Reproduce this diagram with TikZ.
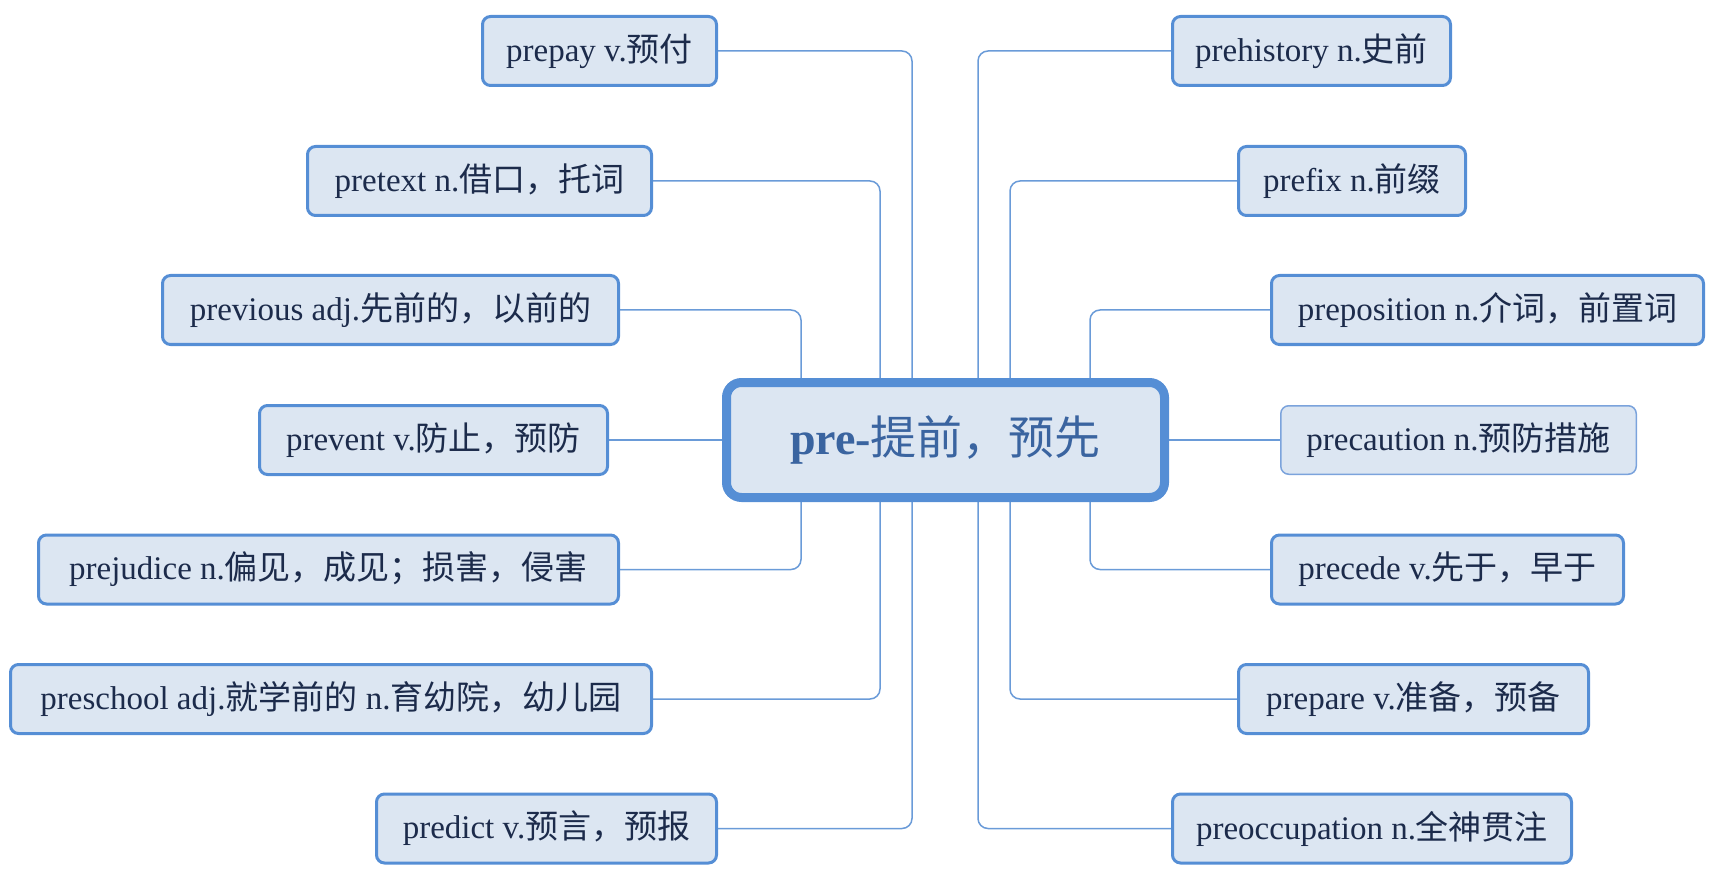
\documentclass[tikz,border=0pt]{standalone}
\usepackage{fontspec}
\setmainfont{Liberation Serif}
\newfontfamily\cjkf{Noto Sans CJK SC}
\newcommand\zhs[1]{{\cjkf #1}}
\usetikzlibrary{backgrounds}
\definecolor{boxfill}{HTML}{DCE6F2}
\definecolor{boxline}{HTML}{558ED5}
\definecolor{thinline}{HTML}{7BA3DC}
\definecolor{linkc}{HTML}{6A9BD8}
\definecolor{txt}{HTML}{1C2B4B}
\definecolor{ctxt}{HTML}{3A64A0}
\begin{document}
\begin{tikzpicture}[x=0.5pt,y=-0.5pt,
  word/.style={draw=boxline, line width=1.5pt, fill=boxfill, rounded corners=4pt,
    minimum height=34.5pt, inner sep=0pt, text=txt, font=\fontsize{16.5}{20}\selectfont},
  hub/.style={draw=boxline, line width=4.5pt, fill=boxfill, rounded corners=7.5pt,
    minimum width=219pt, minimum height=57.5pt, inner sep=0pt, text=ctxt,
    font=\fontsize{23}{28}\selectfont},
  link/.style={draw=linkc, line width=0.75pt, rounded corners=5pt}]
\useasboundingbox (0,0) rectangle (1719,877);

\node[hub] (c) at (945.5,440) {{\bfseries pre-}\zhs{提前，预先}};

% left column
\node[word, minimum width=117pt] (prepay) at (599.5,51) {prepay v.\zhs{预付}};
\node[word, minimum width=172pt] (pretext) at (479.5,181) {pretext n.\zhs{借口，托词}};
\node[word, minimum width=228pt] (previous) at (390.5,310) {previous adj.\zhs{先前的，以前的}};
\node[word, minimum width=174pt] (prevent) at (433.5,440) {prevent v.\zhs{防止，预防}};
\node[word, minimum width=290pt] (prejudice) at (328.5,569.5) {prejudice n.\zhs{偏见，成见；损害，侵害}};
\node[word, minimum width=320.5pt] (preschool) at (331,699) {preschool adj.\zhs{就学前的} n.\zhs{育幼院，幼儿园}};
\node[word, minimum width=170pt] (predict) at (546.5,828.5) {predict v.\zhs{预言，预报}};

% right column
\node[word, minimum width=139pt] (prehistory) at (1311.5,51) {prehistory n.\zhs{史前}};
\node[word, minimum width=113.5pt] (prefix) at (1352,181) {prefix n.\zhs{前缀}};
\node[word, minimum width=216pt] (preposition) at (1487.5,310) {preposition n.\zhs{介词，前置词}};
\node[word, draw=thinline, line width=0.75pt, minimum width=177.75pt, minimum height=34.25pt] (precaution) at (1458.5,440) {precaution n.\zhs{预防措施}};
\node[word, minimum width=176pt] (precede) at (1447.5,569.5) {precede v.\zhs{先于，早于}};
\node[word, minimum width=175pt] (prepare) at (1413.5,699) {prepare v.\zhs{准备，预备}};
\node[word, minimum width=199.5pt] (preoccupation) at (1372,828.5) {preoccupation n.\zhs{全神贯注}};

% trunk positions
\coordinate (xL1) at (912,0);
\coordinate (xL2) at (880,0);
\coordinate (xL3) at (801,0);
\coordinate (xR1) at (978,0);
\coordinate (xR2) at (1010,0);
\coordinate (xR3) at (1090,0);

\begin{scope}[on background layer]
\draw[link] (prepay.east) -| (xL1 |- c.north);
\draw[link] (pretext.east) -| (xL2 |- c.north);
\draw[link] (previous.east) -| (xL3 |- c.north);
\draw[link] (prevent.east) -- (c.west |- prevent.east);
\draw[link] (prejudice.east) -| (xL3 |- c.south);
\draw[link] (preschool.east) -| (xL2 |- c.south);
\draw[link] (predict.east) -| (xL1 |- c.south);
\draw[link] (prehistory.west) -| (xR1 |- c.north);
\draw[link] (prefix.west) -| (xR2 |- c.north);
\draw[link] (preposition.west) -| (xR3 |- c.north);
\draw[link] (precaution.west) -- (c.east |- precaution.west);
\draw[link] (precede.west) -| (xR3 |- c.south);
\draw[link] (prepare.west) -| (xR2 |- c.south);
\draw[link] (preoccupation.west) -| (xR1 |- c.south);
\end{scope}
\end{tikzpicture}
\end{document}
